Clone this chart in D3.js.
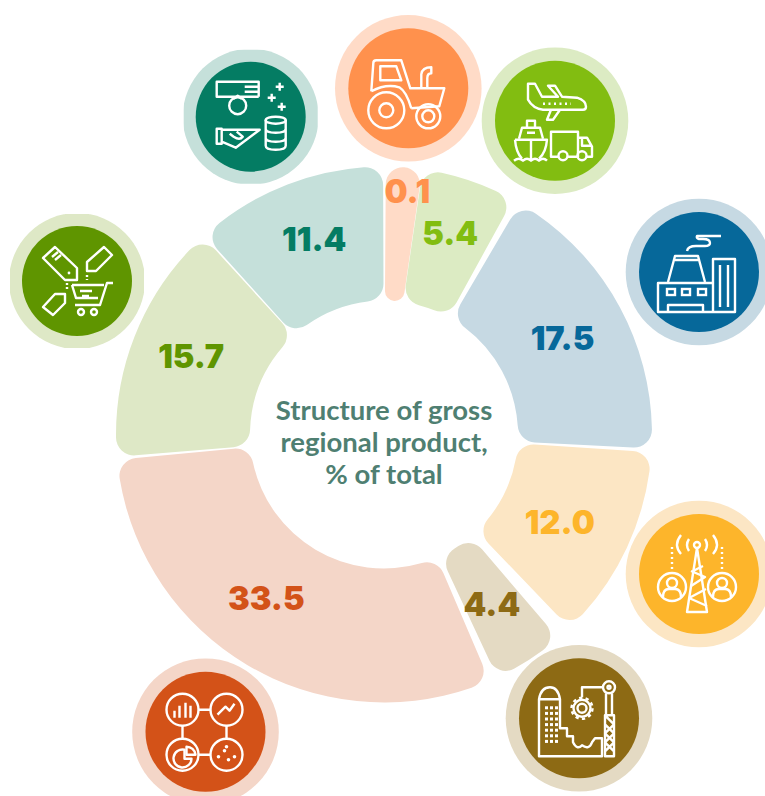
<!DOCTYPE html>
<html><head><meta charset="utf-8">
<script src="https://cdn.jsdelivr.net/npm/d3@7"></script>
<style>html,body{margin:0;padding:0;background:#fff;overflow:hidden}svg{display:block}</style>
</head><body><div id="chart"></div>
<script>
// --- data, clockwise from 12 o'clock ---
const sectors = ["Agriculture","Transport","Industry","Communication","Construction","Services","Trade","Finance"];
const values  = [0.1, 5.4, 17.5, 12.0, 4.4, 33.5, 15.7, 11.4];
// the drawn sweeps are not proportional to the values; degrees
const sweeps  = [7.8, 20.5, 62.6, 42.4, 15.5, 107.8, 52.4, 41.8];
const gapsAfter = [0.1, 1.6, 0.8, 3.3, 1.8, 0.6, 0.4, 0.6];
const titleLines = ["Structure of gross", "regional product,", "% of total"];
const darkColors  = ["#FF914D","#82BD11","#06689A","#FDB52B","#8D6A14","#D35218","#5F9500","#047C63"];
const lightColors = ["#FFDBC7","#DCEBC3","#C6D9E3","#FCE6C4","#E4DAC3","#F4D6C8","#DEE8C6","#C5E0DA"];

// --- layout ---
const W = 765, H = 796, cx = 384, cy = 434.5, R0 = 134, R1 = 268, startDeg = 0.4;
const iconLayout = {
  Agriculture:  {x:408.3,y:88.3, r:60,ring:73.3},
  Transport:    {x:555,  y:120.7,r:60,ring:73.3},
  Industry:     {x:699,  y:272,  r:60,ring:73.3},
  Communication:{x:699,  y:574,  r:60,ring:73.3},
  Construction: {x:579,  y:718.3,r:60,ring:73.3},
  Services:     {x:205.5,y:731.7,r:60,ring:73.3},
  Trade:        {x:77,   y:281,  r:55,ring:68,box:67},
  Finance:      {x:250.7,y:116.7,r:55,ring:68,box:67}
};
const labelRadius = 205;
const labelNudge = {
  Agriculture:[8,-39], Transport:[1,-7], Industry:[-2,1], Communication:[-10,1],
  Construction:[-3,-2], Services:[-13,-12], Trade:[-2,-3], Finance:[4,-4]
};

const SW = 2.4;
const iconDraw = {
  Agriculture(g){
    p(g,"M-37,3 L-35,-25 Q-35,-28 -32,-28 L-7,-28 L2,0 L36,0 L31,18 L3,20 M-37,3 Q-22,-5 -9,-1 Q-2,3 3,20");
    p(g,"M-28,-22 L-12,-22 L-7,-8 L-28,-8 Z");
    p(g,"M13,0 L13,-14 Q14,-21 23,-21 L23,-15 Q19,-15 19,-10 L19,0");
    c(g,-22,22,18); c(g,-22,22,7); c(g,20,28,12); c(g,20,28,6);
  },
  Transport(g){
    p(g,"M-27,-37 L-20,-37 L-13,-24 L3,-24 L-7,-35 L0,-35 L7,-24 L22,-23 Q31,-20 31,-14 Q31,-11 28,-11 L-12,-11 Q-22,-12 -27,-21 Z");
    p(g,"M5,-11 L-2,-1 L-8,-1 L-4,-11");
    p(g,"M-12,-17 L16,-17").attr("stroke-dasharray","2 3.5");
    p(g,"M-40,19 L-8,19 Q-9,32 -16,38 M-40,19 Q-39,32 -33,38 M-24,19 L-24,39");
    p(g,"M-36,18 L-33,7 L-15,7 L-12,18 M-28,7 L-28,0 L-20,0 L-20,7 M-28,12 L-20,12");
    p(g,"M-41,40 Q-36,36 -32,40 Q-28,36 -24,40 Q-20,36 -16,40 Q-12,36 -8,40");
    p(g,"M4,36 L-4,36 L-4,11 L23,11 L23,36 L13,36 M23,17 L32,17 L37,26 L37,36 L32,36 M23,36 L22,36 M27,17 L27,25 L37,25");
    c(g,8,35,4.5); c(g,27,35,4.5);
  },
  Industry(g){
    p(g,"M-41,11 L14,11 L14,40 L-41,40 Z M14,-13 L36,-13 L36,40 L14,40 Z M21,-7 L21,35 M29,-7 L29,35");
    p(g,"M-31,10 L-24,-16 L-1,-16 L6,10 M-24,-12 L-1,-12");
    [-32,-17,-1].forEach(x=>r(g,x,17,8,6));
    p(g,"M-31,40 L-31,33 L4,33 L4,40");
    p(g,"M-12,-21 Q-11,-26 -3,-26 L6,-26 Q11,-26 11,-29 Q11,-33 4,-33 L0,-33 Q-3,-34 -2,-36 L22,-36");
  },
  Communication(g){
    p(g,"M-2,-26 L-12,38 L8,38 Z");
    p(g,"M-6,-3 L4,-8 M-8,12 L6,3 L-8,-3 M-10,24 L7,15 M-10,24 L8,32");
    c(g,-2,-29,3);
    p(g,"M-10,-35 Q-14,-29 -10,-23 M6,-35 Q10,-29 6,-23 M-18,-39 Q-26,-29 -18,-20 M14,-39 Q22,-29 14,-20");
    [-27,23].forEach(x=>{
      p(g,`M${x},-27 L${x},-2`).attr("stroke-dasharray","2 3");
      c(g,x,13,14); c(g,x,9,5);
      p(g,`M${x-9},23 Q${x-9},15 ${x-3},15 L${x+3},15 Q${x+9},15 ${x+9},23`);
    });
  },
  Construction(g){
    p(g,"M-40,38 L-40,-19 Q-38,-31 -29,-31 Q-21,-31 -19,-19 L-19,10 L-12,10 L-12,18 L-6,18 L-6,24 Q-2,32 3,27 Q10,32 13,24 L16,20 L23,20 L23,38 Z M-40,-19 L-19,-19");
    for(const col of [-34,-29,-24]) for(let i=0;i<7;i++) g.append("rect").attr("x",col).attr("y",-12+i*5.6).attr("width",3).attr("height",3).attr("fill","#fff");
    c(g,3,-10,4.5);
    c(g,3,-10,8.5);
    c(g,3,-10,10.5).attr("stroke-dasharray","3.3 3.3");
    p(g,"M3,-21 L3,-31 L24,-31"); c(g,30,-31,6); c(g,30,-31,1.5);
    p(g,"M27,-25 L27,-4 M33,-25 L33,-4");
    p(g,"M26,-3 L35,-3 L35,38 L26,38 Z M26,-3 L35,6 L26,15 L35,24 L26,33 M35,33 L26,24 L35,15 L26,6");
  },
  Services(g){
    [[-23,-22],[21,-22],[-23,23],[21,23]].forEach(a=>c(g,a[0],a[1],16));
    p(g,"M-7,-22 L5,-22 M-7,23 L5,23 M-23,-6 L-23,7 M21,-6 L21,7");
    p(g,"M-31,-14 L-31,-21 M-26,-14 L-26,-26 M-20,-14 L-20,-29 M-15,-14 L-15,-26");
    p(g,"M12,-17 L20,-25 L24,-21 L29,-28");
    p(g,"M-21,18 A9,9 0 1 0 -14,27 L-21,27 Z"); p(g,"M-19,15 A9,9 0 0 1 -10,23 L-19,23 Z");
    [[13,25],[19,19],[23,28],[29,25],[21,15]].forEach(a=>g.append("circle").attr("cx",a[0]).attr("cy",a[1]).attr("r",1.8).attr("fill","#fff"));
  },
  Trade(g){
    p(g,"M-34,-23 L-22,-34 L0,-13 L0,-1 L-12,-1 Z M-25,-24 L-19,-29 M-22,-21 L-16,-26");
    g.append("circle").attr("cx",-8).attr("cy",-8).attr("r",1.4).attr("fill","#fff");
    p(g,"M10,-10 L10,-19 L27,-34 L35,-26 L19,-10 Z");
    p(g,"M-34,26 L-22,13 L-12,13 L-12,22 L-24,34 Z");
    p(g,"M36,2 L30,2 L23,24 L-2,24");
    p(g,"M-5,4 L27,4 M-5,4 L-1,17 L21,17 M3,10 L15,10 M5,15 L12,15");
    c(g,4,31,3); c(g,17,31,3);
    p(g,"M10,-6 L10,-1").attr("stroke-dasharray","2 2");
    p(g,"M-10,2 L-10,9").attr("stroke-dasharray","2 2");
  },
  Finance(g){
    p(g,"M8,-35 L-34,-35 L-34,-20 L8,-20 M-10,-35 L8,-35 L8,-20 M-6,-30 L8,-30 M-6,-25 L8,-25");
    c(g,-13,-11,8.5); p(g,"M-17,-18 L-13,-21 L-9,-18");
    p(g,"M29,-34 L29,-26 M25,-30 L33,-30 M21,-23 L21,-15 M17,-19 L25,-19 M31,-14 L31,-6 M27,-10 L35,-10");
    p(g,"M-34,12 L-29,12 L-29,27 L-34,27 Z M-29,13 L9,13 L-15,31 L-29,25 M-14,15 L-8,20 Q-11,24 -17,20 L-21,17");
    g.append("ellipse").attr("cx",25).attr("cy",3.5).attr("rx",10).attr("ry",3.5).attr("fill","none").attr("stroke","#fff").attr("stroke-width",SW);
    p(g,"M15,3 L15,29 Q15,33 25,33 Q35,33 35,29 L35,3 M15,12 Q15,16 25,16 Q35,16 35,12 M15,21 Q15,25 25,25 Q35,25 35,21");
  }
};
function p(g,d){return g.append("path").attr("d",d).attr("fill","none").attr("stroke","#fff").attr("stroke-width",SW).attr("stroke-linejoin","round");}
function c(g,x,y,rad){return g.append("circle").attr("cx",x).attr("cy",y).attr("r",rad).attr("fill","none").attr("stroke","#fff").attr("stroke-width",SW);}
function r(g,x,y,w,h){return g.append("rect").attr("x",x).attr("y",y).attr("width",w).attr("height",h).attr("fill","none").attr("stroke","#fff").attr("stroke-width",SW);}

const svg = d3.select("#chart").append("svg").attr("width",W).attr("height",H).attr("viewBox",`0 0 ${W} ${H}`);
const root = svg.append("g").attr("transform",`translate(${cx},${cy})`);

const rows = sectors.map((s,i)=>({sector:s,value:values[i],sweep:sweeps[i],gap:gapsAfter[i],dark:darkColors[i],light:lightColors[i]}));
const toRad = d3.scaleLinear().domain([0,360]).range([0,2*Math.PI]);
let cursor = startDeg;
const arcs = rows.map(d=>{
  const a = {data:d,startAngle:toRad(cursor),endAngle:toRad(cursor+d.sweep)};
  cursor += d.sweep + d.gap;
  return a;
});
const arc = d3.arc().innerRadius(R0).outerRadius(R1).cornerRadius(18);
const labelArc = d3.arc().innerRadius(labelRadius).outerRadius(labelRadius);

root.selectAll("path.seg").data(arcs).join("path").attr("class","seg").attr("d",arc).attr("fill",d=>d.data.light);

const defs = svg.append("defs");
rows.forEach((d,i)=>{
  const L = iconLayout[d.sector];
  const g = svg.append("g").attr("transform",`translate(${L.x},${L.y})`);
  if(L.box){
    const id="clip"+i;
    defs.append("clipPath").attr("id",id).append("rect").attr("x",-L.box).attr("y",-L.box).attr("width",2*L.box).attr("height",2*L.box);
    g.append("circle").attr("r",L.ring).attr("fill",d.light).attr("clip-path",`url(#${id})`);
  } else g.append("circle").attr("r",L.ring).attr("fill",d.light);
  g.append("circle").attr("r",L.r).attr("fill",d.dark);
  iconDraw[d.sector](g);
});

const fmt = d3.format(".1f");
root.selectAll("text.val").data(arcs).join("text").attr("class","val")
  .attr("transform",d=>{const q=labelArc.centroid(d),n=labelNudge[d.data.sector];return `translate(${q[0]+n[0]},${q[1]+n[1]})`;})
  .attr("text-anchor","middle").attr("dominant-baseline","central")
  .attr("font-family","Inter, 'Open Sans', sans-serif").attr("font-weight",900).attr("font-size",32.5)
  .attr("fill",d=>d.data.dark).text(d=>fmt(d.data.value));

root.append("text").attr("text-anchor","middle").attr("font-family","Lato, sans-serif").attr("font-weight",700)
  .attr("font-size",27.5).attr("fill","#4F7F72")
  .selectAll("tspan").data(titleLines).join("tspan").attr("x",0).attr("y",(d,i)=>-15+i*32).text(d=>d);
</script></body></html>
